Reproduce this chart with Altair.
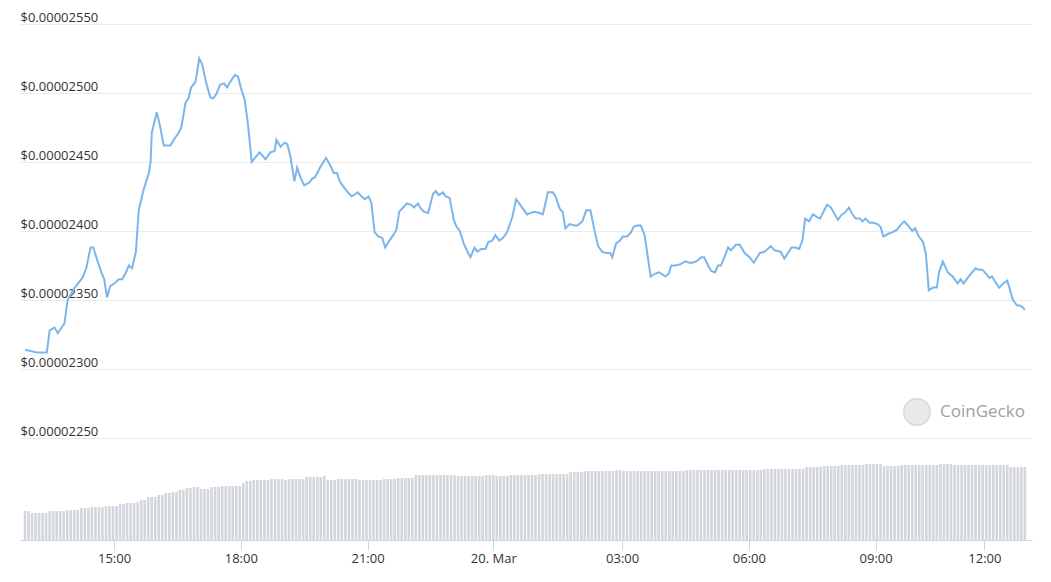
import json
import altair as alt
import pandas as pd

# ---- price line: 5-minute slot index, price in units of 1e-8 USD ----
line_slot = [0.0, 3.4, 6.2, 7.0, 8.4, 9.3, 11.2, 12.1, 14.1, 16.3, 17.4, 18.6, 19.4, 20.5, 21.7, 22.5, 23.3, 24.2,
             25.3, 26.7, 27.6, 28.7, 29.5, 30.4, 31.5, 32.3, 33.7, 35.2, 35.7, 36.0, 37.4, 38.2, 39.4, 41.3, 42.2,
             43.6, 44.4, 45.6, 46.4, 47.2, 48.4, 49.5, 50.3, 51.5, 52.6, 53.4, 54.3, 55.4, 56.5, 57.4, 58.5, 59.6,
             60.5, 61.3, 62.4, 63.3, 64.4, 66.6, 68.3, 69.7, 70.9, 71.4, 72.6, 73.7, 74.5, 75.4, 76.5, 77.3, 78.2,
             79.3, 80.7, 81.6, 82.4, 83.8, 85.5, 86.6, 87.7, 88.6, 89.4, 90.5, 91.7, 92.8, 94.5, 95.6, 96.5, 97.6,
             98.4, 99.3, 100.4, 101.5, 102.3, 103.5, 104.6, 105.5, 106.3, 107.4, 108.5, 109.7, 110.5, 111.6, 112.5,
             113.3, 114.5, 115.9, 116.7, 117.5, 118.7, 119.5, 120.6, 121.8, 122.6, 123.5, 124.6, 125.7, 126.5,
             127.7, 128.5, 129.6, 130.8, 131.6, 132.7, 133.6, 134.7, 135.8, 136.9, 138.4, 139.5, 141.2, 142.6,
             143.4, 144.8, 146.2, 147.1, 148.5, 149.9, 150.7, 151.9, 152.7, 153.5, 154.7, 156.1, 156.9, 158.3,
             159.4, 160.6, 161.7, 162.8, 163.9, 165.1, 166.2, 166.8, 167.9, 169.0, 169.8, 171.0, 172.1, 172.9,
             173.8, 174.9, 176.0, 177.7, 178.9, 180.0, 180.8, 181.9, 182.8, 183.6, 184.8, 186.2, 187.6, 188.7,
             189.5, 190.7, 192.1, 192.9, 194.0, 194.9, 196.0, 196.8, 197.7, 199.7, 200.5, 201.9, 203.0, 204.4,
             205.8, 207.0, 208.7, 210.1, 211.8, 212.9, 214.6, 215.7, 217.7, 218.8, 219.9, 220.8, 221.6, 222.7,
             223.8, 225.0, 225.8, 227.8, 228.9, 230.9, 232.0, 232.8, 234.0, 234.8, 235.9, 237.1, 237.9, 238.7,
             239.9, 241.0, 242.1, 243.0, 243.8, 245.2, 246.3, 247.7, 248.9, 249.7, 250.8, 252.0, 252.8, 253.9,
             255.1, 255.9, 256.7, 257.9, 259.0, 259.6, 260.7, 262.1, 263.5, 264.9, 265.7, 266.6, 268.0, 270.0,
             270.8, 271.9, 273.3, 273.9, 274.7, 275.6, 276.7, 277.8, 279.0, 279.8, 280.6, 281.8, 282.6, 283.2,
             284.0]
line_price = [2314, 2312, 2312, 2328, 2330, 2326, 2333, 2350, 2359, 2366, 2373, 2388, 2388, 2379, 2370, 2365, 2352,
              2360, 2362, 2365, 2365, 2370, 2375, 2373, 2385, 2415, 2430, 2442, 2451, 2471, 2486, 2478, 2462,
              2462, 2466, 2471, 2475, 2493, 2496, 2504, 2508, 2525, 2521, 2507, 2497, 2496, 2499, 2506, 2507,
              2504, 2509, 2513, 2512, 2504, 2495, 2478, 2450, 2457, 2452, 2457, 2458, 2466, 2461, 2464, 2463,
              2454, 2436, 2446, 2439, 2433, 2435, 2438, 2439, 2446, 2453, 2448, 2442, 2442, 2436, 2432, 2428,
              2425, 2428, 2425, 2423, 2425, 2420, 2399, 2396, 2395, 2388, 2393, 2397, 2401, 2414, 2417, 2420,
              2419, 2417, 2420, 2416, 2414, 2413, 2427, 2429, 2426, 2428, 2425, 2424, 2408, 2403, 2400, 2391,
              2385, 2381, 2388, 2385, 2387, 2387, 2392, 2393, 2397, 2393, 2395, 2399, 2410, 2423, 2417, 2412,
              2413, 2414, 2413, 2412, 2428, 2428, 2425, 2416, 2414, 2402, 2405, 2404, 2404, 2407, 2415, 2415,
              2401, 2389, 2385, 2384, 2384, 2381, 2391, 2393, 2396, 2396, 2399, 2403, 2404, 2404, 2397, 2367,
              2369, 2370, 2369, 2367, 2369, 2375, 2375, 2376, 2378, 2377, 2377, 2378, 2381, 2381, 2375, 2371,
              2370, 2375, 2375, 2388, 2386, 2390, 2390, 2384, 2381, 2377, 2384, 2385, 2389, 2386, 2385, 2380,
              2388, 2388, 2387, 2393, 2409, 2407, 2412, 2410, 2409, 2419, 2417, 2408, 2412, 2413, 2417, 2413,
              2409, 2409, 2407, 2409, 2406, 2406, 2405, 2403, 2396, 2398, 2399, 2401, 2405, 2407, 2404, 2400,
              2402, 2396, 2392, 2383, 2357, 2359, 2359, 2370, 2378, 2370, 2367, 2362, 2365, 2362, 2367, 2373,
              2372, 2372, 2368, 2366, 2367, 2363, 2359, 2362, 2364, 2357, 2350, 2346, 2346, 2345, 2343]

# ---- volume bars, one per 5-minute slot (relative units) ----
volume = [29, 29, 27, 27, 27, 27, 27, 29, 29, 29, 29, 29, 30, 30, 30, 30, 32, 32, 32, 33, 33, 33, 33,
          34, 34, 34, 34, 36, 36, 37, 37, 37, 38, 40, 40, 43, 43, 43, 45, 45, 47, 47, 48, 48, 50, 50,
          52, 52, 53, 53, 51, 51, 51, 53, 53, 53, 54, 54, 54, 54, 54, 54, 57, 59, 59, 60, 60, 60, 60, 60,
          61, 61, 61, 61, 60, 61, 61, 61, 61, 61, 63, 63, 63, 63, 63, 64, 60, 60, 60, 61, 61, 61, 61, 61, 61,
          60, 60, 60, 60, 60, 60, 60, 61, 61, 61, 61, 62, 62, 62, 62, 62,
          65, 65, 65, 65, 65, 65, 65, 65, 65, 65, 65, 65, 64, 64, 64, 64, 64, 64, 64, 64, 65, 65, 65,
          64, 64, 64, 64, 65, 65, 65, 65, 65, 65, 65, 65, 66, 66, 66, 66, 66, 66, 66, 66, 66, 68, 68, 68, 68,
          69, 69, 69, 69, 69, 69, 69, 69, 69, 70, 70,
          69, 69, 69, 69, 69, 69, 69, 69, 69, 69, 69, 69, 69, 69, 69, 69, 69, 69,
          70, 70, 70, 70, 70, 70, 70, 70, 70, 70, 70, 70, 70, 70, 70, 70, 70, 70, 70, 70, 70, 70,
          71, 71, 71, 71, 71, 71, 71, 71, 71, 71, 71, 71, 73, 73, 73, 73, 73, 74, 74, 74, 74, 74,
          75, 75, 75, 75, 75, 75, 75, 76, 76, 76, 76, 76, 74, 74, 74, 74, 74,
          75, 75, 75, 75, 75, 75, 75, 75, 75, 75, 75, 76, 76, 76, 76,
          75, 75, 75, 75, 75, 75, 75, 75, 75, 75, 75, 75, 75, 75, 75, 75, 73, 73, 73, 73, 73]

# ---- axes ----
tick_slot = [25.3, 61.3, 97.3, 133.0, 169.6, 205.6, 241.6, 272.5]
tick_label = ["15:00", "18:00", "21:00", "20. Mar", "03:00", "06:00", "09:00", "12:00"]
price_ticks = [2250, 2300, 2350, 2400, 2450, 2500, 2550]

price_df = pd.DataFrame({"slot": line_slot, "price": [p * 1e-8 for p in line_price]})
vol_df = pd.DataFrame({"slot": list(range(len(volume))), "volume": volume})

FONT = "Open Sans"
label_expr = f"{json.dumps(tick_label)}[indexof({json.dumps(tick_slot)}, datum.value)]"

x_axis = alt.Axis(values=tick_slot, labelExpr=label_expr, title=None, grid=False,
                  domainColor="#ccd6eb", tickColor="#ccd6eb", tickSize=10, labelPadding=2,
                  labelFont=FONT, labelFontSize=13, labelColor="#333333", labelAngle=0,
                  labelOverlap=False, labelFlush=False)
x_scale = alt.Scale(domain=[0, 284.6], nice=False, zero=False)

bars = alt.Chart(vol_df).mark_bar(color="#d3d6dc", size=2.6).encode(
    x=alt.X("slot:Q", scale=x_scale, axis=x_axis),
    y=alt.Y("volume:Q", scale=alt.Scale(domain=[0, 524], nice=False), axis=None),
)

line = alt.Chart(price_df).mark_line(color="#7cb5ec", strokeWidth=2, interpolate="linear").encode(
    x=alt.X("slot:Q", scale=x_scale, axis=x_axis),
    y=alt.Y("price:Q",
            scale=alt.Scale(domain=[2176.09e-8, 2555.80e-8], nice=False, zero=False),
            axis=alt.Axis(values=[v * 1e-8 for v in price_ticks], format="$.8f", title=None,
                          grid=True, gridColor="#ebebeb", gridWidth=1, domain=False, ticks=False,
                          tickSize=0, labelAlign="left", labelBaseline="alphabetic", labelPadding=0,
                          labelOffset=-3, labelFont=FONT, labelFontSize=13, labelColor="#333333")),
)

logo_circle = alt.Chart(pd.DataFrame({"a": [0]})).mark_circle(
    size=700, color="#e9e9e9", opacity=1, stroke="#d8d8d8", strokeWidth=1.5
).encode(x=alt.value(897), y=alt.value(396))

logo_text = alt.Chart(pd.DataFrame({"a": [0]})).mark_text(
    text="CoinGecko", font=FONT, fontSize=17, fontWeight=500, color="#a0a0a0", align="left",
    baseline="middle"
).encode(x=alt.value(920), y=alt.value(396))

chart = alt.layer(bars, line, logo_circle, logo_text).resolve_scale(y="independent").properties(
    width=1012, height=524, autosize=alt.AutoSizeParams(type="none"),
    padding={"left": 12, "top": 8, "right": 11, "bottom": 34},
).configure(background="white").configure_view(strokeWidth=0)

chart.save("out.html", embed_options={"renderer": "svg", "actions": False})
